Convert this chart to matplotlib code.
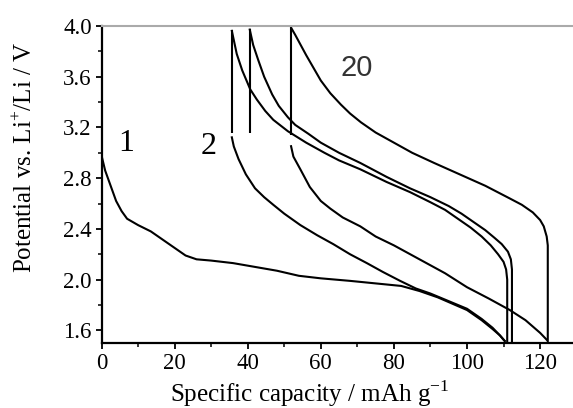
"""Charge/discharge profiles, cycles 1, 2 and 20."""
import matplotlib
matplotlib.use("Agg")
import matplotlib.pyplot as plt
from matplotlib.ticker import MultipleLocator

plt.rcParams["font.family"] = ["Liberation Serif", "DejaVu Serif"]
plt.rcParams["mathtext.fontset"] = "custom"
plt.rcParams["mathtext.rm"] = "Liberation Serif"

# --- cycle 1: first discharge ---
cap_d1 = [0, 1, 2.5, 4, 5.5, 7, 10, 13.5, 17, 20, 23, 26, 30, 36, 42, 48, 54, 60,
          68, 75, 82, 87, 92, 96, 100, 104, 107, 109, 110.5]
volt_d1 = [2.98, 2.86, 2.74, 2.62, 2.54, 2.48, 2.43, 2.38, 2.31, 2.25, 2.19, 2.16,
           2.15, 2.13, 2.10, 2.07, 2.03, 2.01, 1.99, 1.97, 1.95, 1.91, 1.86, 1.81,
           1.76, 1.68, 1.61, 1.56, 1.51]

# --- cycle 2: charge, rest, discharge ---
cap_c2 = [111, 111, 110.7, 110, 108.5, 106.5, 104, 101, 98, 94, 90, 84.4, 78, 70.8,
          65, 61, 56, 51, 47, 44.8, 42.5, 40.7, 38.5, 37, 35.6]
volt_c2 = [1.5, 2.0, 2.08, 2.14, 2.2, 2.27, 2.34, 2.41, 2.47, 2.55, 2.61, 2.69, 2.77,
           2.87, 2.94, 3.0, 3.08, 3.17, 3.26, 3.33, 3.42, 3.5, 3.65, 3.78, 3.97]
cap_r2 = [35.6, 35.6]
volt_r2 = [3.97, 3.16]
cap_d2 = [35.6, 36.2, 37.5, 39.5, 42, 44.5, 47, 50, 54.4, 59, 63.4, 68, 72.6, 77,
          81.7, 86, 90, 95, 100, 104, 107, 109, 110.5]
volt_d2 = [3.13, 3.05, 2.95, 2.83, 2.72, 2.65, 2.59, 2.52, 2.43, 2.35, 2.28, 2.2,
           2.13, 2.06, 1.99, 1.93, 1.89, 1.83, 1.77, 1.69, 1.62, 1.56, 1.51]

# --- intermediate cycle: charge and rest only ---
cap_cm = [112.3, 112.3, 112, 111.2, 109.5, 107.5, 105, 102, 98.5, 95, 90, 84.4, 78,
          70.8, 65, 60, 56.6, 53, 51, 48.5, 46.7, 44.5, 42.9, 41.5, 40.5]
volt_cm = [1.5, 2.08, 2.16, 2.22, 2.28, 2.33, 2.39, 2.45, 2.52, 2.58, 2.65, 2.72,
           2.81, 2.92, 3.0, 3.08, 3.15, 3.22, 3.28, 3.37, 3.46, 3.6, 3.73, 3.85, 3.98]
cap_rm = [40.5, 40.5]
volt_rm = [3.98, 3.16]

# --- cycle 20: charge, rest, discharge ---
cap_c20 = [122.1, 122.1, 121.8, 121, 120, 118, 115, 111.7, 105, 98, 91, 85, 80,
           75, 71, 68, 65.5, 62.6, 60, 58, 56, 54.5, 53, 51.8]
volt_c20 = [1.5, 2.27, 2.34, 2.42, 2.47, 2.53, 2.59, 2.64, 2.74, 2.83, 2.92, 3.0,
            3.08, 3.16, 3.24, 3.31, 3.38, 3.47, 3.57, 3.67, 3.77, 3.85, 3.93, 3.99]
cap_r20 = [51.8, 51.8]
volt_r20 = [3.99, 3.14]
cap_d20 = [51.8, 52.5, 54.4, 57, 60, 62.6, 66, 70.8, 75, 80, 87, 94, 100, 106,
           111.7, 116, 120, 122]
volt_d20 = [3.06, 2.97, 2.87, 2.73, 2.62, 2.56, 2.49, 2.42, 2.34, 2.27, 2.16, 2.05,
            1.94, 1.85, 1.76, 1.68, 1.58, 1.52]

curves = [(cap_d1, volt_d1), (cap_c2, volt_c2), (cap_r2, volt_r2), (cap_d2, volt_d2),
          (cap_cm, volt_cm), (cap_rm, volt_rm),
          (cap_c20, volt_c20), (cap_r20, volt_r20), (cap_d20, volt_d20)]

fig = plt.figure(figsize=(5.73, 4.08), dpi=100)
ax = fig.add_axes([101.5 / 573, 1 - 343 / 408, 471.5 / 573, 317 / 408])

for xs, ys in curves:
    ax.plot(xs, ys, color="black", lw=1.5, solid_capstyle="butt")

# cycle numbers
ax.text(6.7, 3.07, "1", fontsize=23, ha="center", va="center")
ax.text(29.4, 3.05, "2", fontsize=23, ha="center", va="center")
ax.text(69.8, 3.67, "20", fontsize=21, ha="center", va="center",
        family="Liberation Sans", color="#333333")

ax.set_xlim(0, 129.0)
ax.set_ylim(1.5, 4.0)
ax.xaxis.set_major_locator(MultipleLocator(20))
ax.xaxis.set_minor_locator(MultipleLocator(10))
ax.yaxis.set_minor_locator(MultipleLocator(0.2))
ax.set_yticks([1.6, 2.0, 2.4, 2.8, 3.2, 3.6, 4.0])
ax.set_yticklabels(["1.6", "2.0", "2.4", "2.8", "3.2", "3.6", "4.0"])

ax.tick_params(which="major", direction="out", length=4, width=1.3, labelsize=16.5, pad=3)
ax.tick_params(which="minor", direction="out", length=3, width=1.1)

ax.spines["right"].set_visible(False)
ax.spines["top"].set_color("#aaaaaa")
ax.spines["top"].set_linewidth(1.5)
ax.spines["left"].set_linewidth(1.6)
ax.spines["bottom"].set_linewidth(1.6)

ax.set_xlabel(r"Specific capacity / mAh g$^{\mathregular{-1}}$", fontsize=18)
ax.set_ylabel(r"Potential vs. Li$^{\mathregular{+}}$/Li / V", fontsize=18)
ax.xaxis.set_label_coords(0.442, -0.112)
ax.yaxis.set_label_coords(-0.137, 0.587)

fig.savefig("out.png", dpi=100)
